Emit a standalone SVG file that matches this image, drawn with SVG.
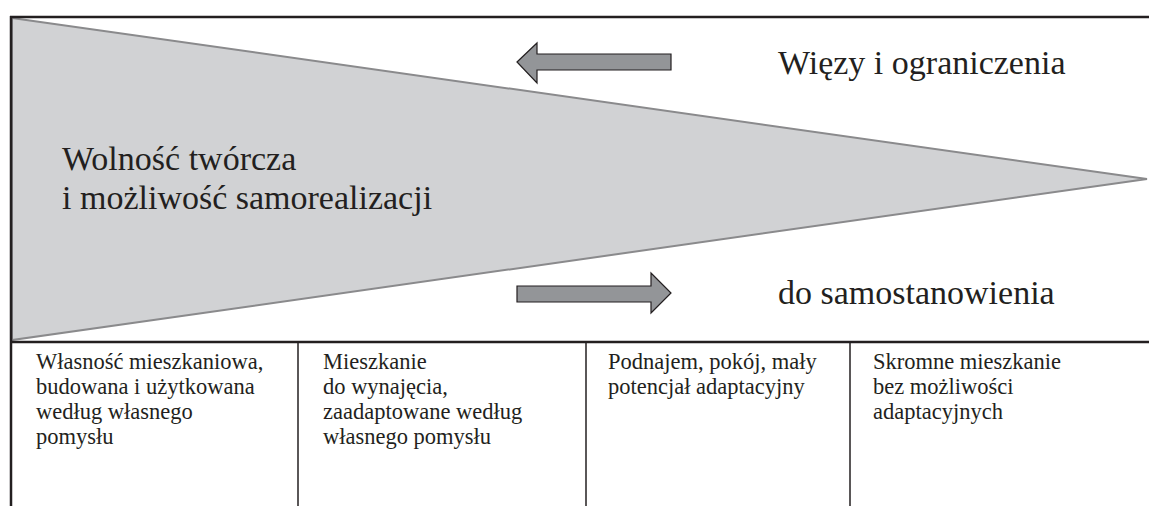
<svg xmlns="http://www.w3.org/2000/svg" width="1149" height="506" viewBox="0 0 1149 506">
<style>
.frame{fill:none;stroke:#231f20;stroke-width:2.5}
.div{fill:none;stroke:#231f20;stroke-width:1.5}
.arrow{fill:#939598;stroke:#231f20;stroke-width:1.2;stroke-linejoin:miter}
text{font-family:'Liberation Serif',Tinos,'Times New Roman',Times,'Nimbus Roman',FreeSerif,'Noto Serif','DejaVu Serif',serif;fill:#231f20}
.big{font-size:34px}
.small{font-size:22.5px}
</style>
<rect width="1149" height="506" fill="#ffffff"/>
<g id="wedge">
<polygon points="12,18 1147,179 12,340" fill="#d1d2d4" stroke="#8a8a8c" stroke-width="2"/>
</g>
<g id="frame">
<line class="frame" x1="10" y1="17" x2="1149" y2="17"/>
<line class="frame" x1="11" y1="16" x2="11" y2="506"/>
<line class="frame" x1="10" y1="342" x2="1149" y2="342" stroke-width="3"/>
<line class="div" x1="298" y1="342" x2="298" y2="506"/>
<line class="div" x1="586" y1="342" x2="586" y2="506"/>
<line class="div" x1="850" y1="342" x2="850" y2="506"/>
</g>
<g id="connectors">
<polygon class="arrow" points="517,62 537,43 537,54 671,54 671,70 537,70 537,83"/>
<polygon class="arrow" points="517,286 651,286 651,273 671,293 651,313 651,302 517,302"/>
</g>
<g id="freedom">
<text class="big" x="62" y="170">Wolność twórcza</text>
<text class="big" x="62" y="209">i możliwość samorealizacji</text>
</g>
<g id="ties">
<text class="big" x="778" y="74">Więzy i ograniczenia</text>
</g>
<g id="self">
<text class="big" x="778" y="304">do samostanowienia</text>
</g>
<g id="col1">
<text class="small" x="36" y="369">Własność mieszkaniowa,</text>
<text class="small" x="36" y="394">budowana i użytkowana</text>
<text class="small" x="36" y="419">według własnego</text>
<text class="small" x="36" y="444">pomysłu</text>
</g>
<g id="col2">
<text class="small" x="323" y="369">Mieszkanie</text>
<text class="small" x="323" y="394">do wynajęcia,</text>
<text class="small" x="323" y="419">zaadaptowane według</text>
<text class="small" x="323" y="444">własnego pomysłu</text>
</g>
<g id="col3">
<text class="small" x="608" y="369">Podnajem, pokój, mały</text>
<text class="small" x="608" y="394">potencjał adaptacyjny</text>
</g>
<g id="col4">
<text class="small" x="873" y="369">Skromne mieszkanie</text>
<text class="small" x="873" y="394">bez możliwości</text>
<text class="small" x="873" y="419">adaptacyjnych</text>
</g>
</svg>
